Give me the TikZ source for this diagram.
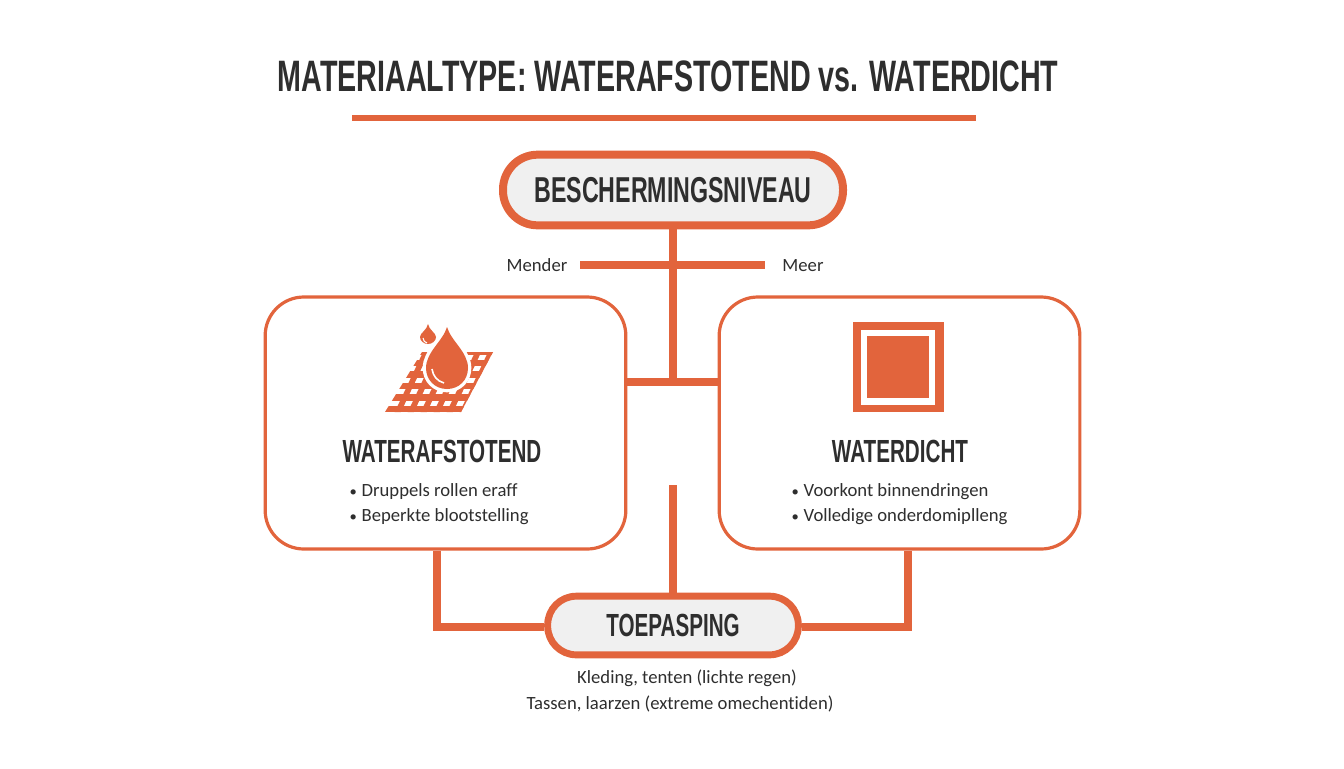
\documentclass[tikz,border=0pt]{standalone}
\usepackage{fontspec}
\setmainfont[Ligatures=NoCommon]{Carlito}
\newfontfamily\headfont[FakeStretch=0.645]{Liberation Sans Bold}
\newfontfamily\titelfont[FakeStretch=0.652]{Liberation Sans Bold}
\definecolor{oranje}{HTML}{E2643C}
\definecolor{donker}{HTML}{2E2E2E}
\tikzset{
  pil/.style={draw=oranje, fill=black!6, rounded corners=#1},
  kader/.style={draw=oranje, line width=2.4pt, fill=white, rounded corners=29pt},
  lijn/.style={draw=oranje, line width=6pt},
  kop/.style={text=donker, font=\headfont\fontsize{27}{27}\selectfont},
  kopklein/.style={text=donker, font=\headfont\fontsize{24}{24}\selectfont},
  tekst/.style={text=donker, font=\fontsize{14}{16}\selectfont},
  druppel/.style={fill=oranje, preaction={draw=white, line width=#1}},
}
\begin{document}
\begin{tikzpicture}[x=0.75pt, y=-0.75pt]
  \useasboundingbox (0,0) rectangle (1344,768);
  \node[text=donker, font=\titelfont\fontsize{33}{33}\selectfont] (titel) at (668,76) {MATERIAALTYPE: WATERAFSTOTEND vs. WATERDICHT};
  \coordinate (regelL) at (352,118);
  \coordinate (regelR) at (976,118);
  \draw[oranje, line width=3.8pt] (regelL) -- (regelR);
  % bovenste lijnen
  \coordinate (stam) at (673,225);
  \coordinate (kruis) at (673,382);
  \coordinate (schaalL) at (580,265);
  \coordinate (schaalR) at (765,265);
  \draw[lijn] (stam) -- (kruis);
  \draw[lijn] (schaalL) -- (schaalR);
  \node[tekst] (mender) at (537,265.5) {Mender};
  \node[tekst] (meer) at (803,265.5) {Meer};
  \node[pil=26pt, kop, minimum width=255pt, minimum height=53pt, line width=6pt] (niveau) at (673,190) {BESCHERMINGSNIVEAU};
  % kaders
  \node[kader, minimum width=270.5pt, minimum height=189pt] (afstotend) at (445.5,423) {};
  \node[kader, minimum width=270.5pt, minimum height=189pt] (dicht) at (899.5,423) {};
  \draw[lijn] (afstotend.east |- kruis) -- (dicht.west |- kruis);
  % onderste lijnen
  \node[pil=21.5pt, kopklein, minimum width=188pt, minimum height=44pt, line width=5.2pt] (toepassing) at (673,625.5) {TOEPASPING};
  \coordinate (stamO) at (673,485);
  \coordinate (hoekL) at (437,627);
  \coordinate (hoekR) at (908,627);
  \draw[lijn] (stamO) -- (toepassing.north -| stamO);
  \draw[lijn] (afstotend.south -| hoekL) -- (hoekL) -- (toepassing.west |- hoekL);
  \draw[lijn] (dicht.south -| hoekR) -- (hoekR) -- (toepassing.east |- hoekR);
  % icoon gaas
  \begin{scope}
    \clip (385,412) -- (461,412) -- (493,352) -- (422,352) -- cycle;
    \foreach \i in {0,1,2,3,4,5}{
      \draw[oranje, line width=5pt] (380,{409-\i*11.5}) -- (500,{409-\i*11.5});
    }
    \foreach \i in {0,1,2,3,4,5,6,7}{
      \draw[oranje, line width=4.2pt] ({396+\i*13},416) -- ({428+\i*13},348);
    }
  \end{scope}
  % druppels
  \path[druppel=5pt] (447,327) .. controls (451,341) and (468,352) .. (468,368)
    .. controls (468,380) and (459,389) .. (447,389)
    .. controls (435,389) and (426,380) .. (426,368)
    .. controls (426,352) and (443,341) .. (447,327) -- cycle;
  \draw[white, line width=1.2pt] (432,369) .. controls (433,376) and (437,381) .. (444,383);
  \path[druppel=0pt] (428,324) .. controls (429,330) and (436,333) .. (436,337)
    .. controls (436,341) and (432,344) .. (428,344)
    .. controls (424,344) and (420,341) .. (420,337)
    .. controls (420,333) and (427,330) .. (428,324) -- cycle;
  \draw[white, line width=0.8pt] (423,338) .. controls (423,341) and (425,342) .. (427,343);
  % icoon vierkant
  \fill[oranje] (853,322) rectangle (944,412);
  \fill[white] (861,330) rectangle (935,405);
  \fill[oranje] (867,336) rectangle (929,398);
  % teksten
  \node[kopklein] (naamL) at (442,451) {WATERAFSTOTEND};
  \node[kopklein] (naamR) at (900,451) {WATERDICHT};
  \node[tekst, anchor=west] (puntL1) at (345,491.5) {{\fontsize{11}{11}\selectfont •}\hspace{0.25em}Druppels rollen eraff};
  \node[tekst, anchor=west] (puntL2) at (345,516.5) {{\fontsize{11}{11}\selectfont •}\hspace{0.25em}Beperkte blootstelling};
  \node[tekst, anchor=west] (puntR1) at (787,491.5) {{\fontsize{11}{11}\selectfont •}\hspace{0.25em}Voorkont binnendringen};
  \node[tekst, anchor=west] (puntR2) at (787,516.5) {{\fontsize{11}{11}\selectfont •}\hspace{0.25em}Volledige onderdomiplleng};
  \node[tekst] (regel1) at (687,678.5) {Kleding, tenten (lichte regen)};
  \node[tekst] (regel2) at (680,703.5) {Tassen, laarzen (extreme omechentiden)};
\end{tikzpicture}
\end{document}
